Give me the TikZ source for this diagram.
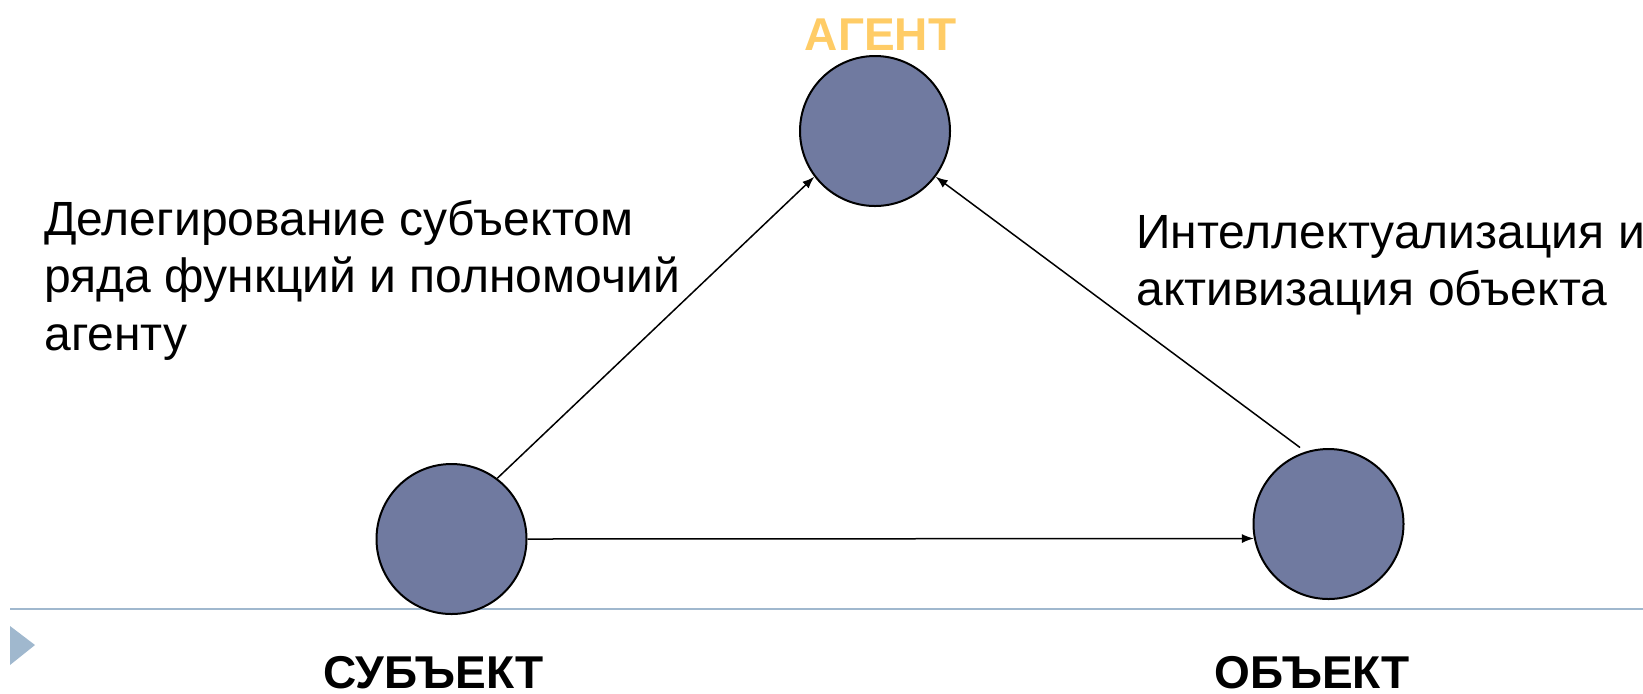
\documentclass[tikz,border=0pt]{standalone}
\usepackage{fontspec}
\setmainfont{Liberation Sans}
\usetikzlibrary{arrows.meta}
\definecolor{circfill}{RGB}{112,122,160}
\definecolor{agentcol}{RGB}{255,204,102}
\definecolor{rulecol}{RGB}{160,184,206}
\begin{document}
\begin{tikzpicture}[x=0.5pt,y=-0.5pt,
  circ/.style={circle, draw=black, line width=1pt, fill=circfill, minimum size=75pt, inner sep=0pt},
  arr/.style={-{Latex[length=6pt,width=4.5pt]}, line width=0.75pt},
  lbl/.style={font=\fontsize{24}{28}\selectfont, anchor=base west, inner sep=0pt},
  ttl/.style={font=\fontsize{23}{28}\selectfont\bfseries, anchor=base, inner sep=0pt, text depth=0pt}]
\useasboundingbox (0,0) rectangle (1643,693);
\draw[rulecol, line width=1pt] (10,609) -- (1643,609);
\fill[rulecol] (10,626) -- (35,645) -- (10,665) -- cycle;
\node[circ] (agent) at (875,131) {};
\node[circ] (subj) at (451.5,539) {};
\node[circ] (obj) at (1328.5,524) {};
\draw[arr] (subj.53) -- (agent.217);
\draw[arr] ([yshift=3pt]obj.112) -- (agent.323);
\draw[arr] (subj.east) -- (obj.191);
\node[ttl, text=agentcol] (tagent) at (880.5,50) {АГЕНТ};
\node[ttl] (tsubj) at (433.5,688) {СУБЪЕКТ};
\node[ttl] (tobj) at (1312.5,688) {ОБЪЕКТ};
\node[lbl] (l1) at (44,235) {Делегирование субъектом};
\node[lbl] (l2) at (44,292) {ряда функций и полномочий};
\node[lbl] (l3) at (44,350) {агенту};
\node[lbl] (r1) at (1136,248) {Интеллектуализация и};
\node[lbl] (r2) at (1136,305) {активизация объекта};
\end{tikzpicture}
\end{document}
